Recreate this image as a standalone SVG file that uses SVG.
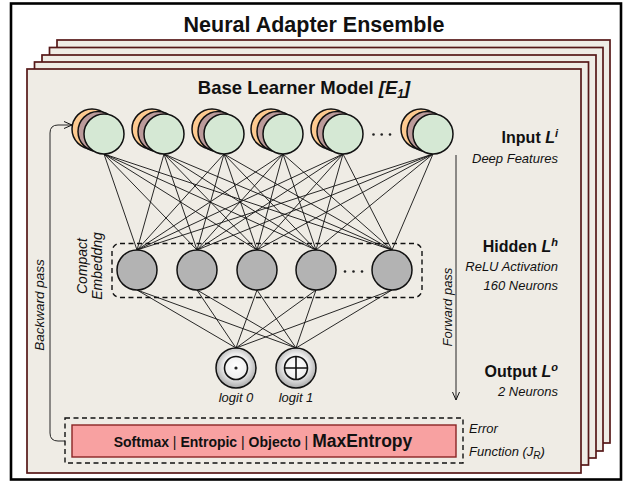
<svg xmlns="http://www.w3.org/2000/svg" width="628" height="483" viewBox="0 0 628 483">
<defs>
<style>
.page{fill:#efece5;stroke:#561818;stroke-width:1.7}
.ln{stroke:#111;stroke-width:0.9;fill:none}
.inA{fill:#fdca90;stroke:#111;stroke-width:1.5}
.inB{fill:#bc9b9b;stroke:#111;stroke-width:1.5}
.inC{fill:#d5e8d4;stroke:#111;stroke-width:1.5}
.hid{fill:#b3b3b3;stroke:#111;stroke-width:1.5}
.out{fill:url(#og);stroke:#111;stroke-width:1.5}
.sym{fill:none;stroke:#111;stroke-width:1.6}
.dash{fill:none;stroke:#111;stroke-width:1.4;stroke-dasharray:5,3.5}
.t{font-family:"Liberation Sans",Arial,sans-serif;fill:#111}
.b{font-weight:bold}
.i{font-style:italic}
.dot{fill:#222}
</style>
<radialGradient id="og" cx="50%" cy="45%" r="55%">
<stop offset="0" stop-color="#ffffff"/>
<stop offset="0.55" stop-color="#eeeeee"/>
<stop offset="1" stop-color="#a9a9a9"/>
</radialGradient>
<marker id="ar" markerWidth="10" markerHeight="10" refX="9" refY="5" orient="auto" markerUnits="userSpaceOnUse">
<path d="M1,1.5 L9,5 L1,8.5" fill="none" stroke="#111" stroke-width="1"/>
</marker>
</defs>
<rect x="0" y="0" width="628" height="483" fill="#fff"/>
<rect x="11" y="3.5" width="610" height="476" fill="#fff" stroke="#000" stroke-width="2.6"/>
<text class="t b" x="314" y="32" font-size="21.5" text-anchor="middle">Neural Adapter Ensemble</text>
<g id="pages">
<rect class="page" x="57" y="40" width="553" height="403"/>
<rect class="page" x="49.5" y="47.5" width="553.5" height="403.5"/>
<rect class="page" x="42" y="55" width="554" height="403"/>
<rect class="page" x="34.5" y="62" width="554" height="403"/>
<rect class="page" x="27" y="69" width="554" height="404"/>
</g>
<text class="t b" x="304" y="94" font-size="18.5" text-anchor="middle">Base Learner Model <tspan font-style="italic">[E<tspan font-size="12" baseline-shift="-4">1</tspan>]</tspan></text>
<g id="connectors">
<g class="ln">
<path d="M104,154 L137,250 M104,154 L197,250 M104,154 L257,250 M104,154 L316,250 M104,154 L392,250"/>
<path d="M164,154 L137,250 M164,154 L197,250 M164,154 L257,250 M164,154 L316,250 M164,154 L392,250"/>
<path d="M224,154 L137,250 M224,154 L197,250 M224,154 L257,250 M224,154 L316,250 M224,154 L392,250"/>
<path d="M283,154 L137,250 M283,154 L197,250 M283,154 L257,250 M283,154 L316,250 M283,154 L392,250"/>
<path d="M343,154 L137,250 M343,154 L197,250 M343,154 L257,250 M343,154 L316,250 M343,154 L392,250"/>
<path d="M433,154 L137,250 M433,154 L197,250 M433,154 L257,250 M433,154 L316,250 M433,154 L392,250"/>
<path d="M137,290 L236,348 M137,290 L296,348 M197,290 L236,348 M197,290 L296,348 M257,290 L236,348 M257,290 L296,348 M316,290 L236,348 M316,290 L296,348 M392,290 L236,348 M392,290 L296,348"/>
</g>
<path id="forward" class="ln" d="M456,155 L456,400" marker-end="url(#ar)"/>
<path id="backward" class="ln" d="M65,441 L58,441 Q50,441 50,433 L50,133 Q50,125 58,125 L72,125" marker-end="url(#ar)"/>
</g>
<g id="input-layer">
<g id="in1"><circle class="inA" cx="92" cy="129" r="20"/><circle class="inB" cx="98" cy="131.5" r="20"/><circle class="inC" cx="104" cy="134" r="20"/></g>
<g id="in2"><circle class="inA" cx="152" cy="129" r="20"/><circle class="inB" cx="158" cy="131.5" r="20"/><circle class="inC" cx="164" cy="134" r="20"/></g>
<g id="in3"><circle class="inA" cx="212" cy="129" r="20"/><circle class="inB" cx="218" cy="131.5" r="20"/><circle class="inC" cx="224" cy="134" r="20"/></g>
<g id="in4"><circle class="inA" cx="271" cy="129" r="20"/><circle class="inB" cx="277" cy="131.5" r="20"/><circle class="inC" cx="283" cy="134" r="20"/></g>
<g id="in5"><circle class="inA" cx="331" cy="129" r="20"/><circle class="inB" cx="337" cy="131.5" r="20"/><circle class="inC" cx="343" cy="134" r="20"/></g>
<g id="in6"><circle class="inA" cx="421" cy="129" r="20"/><circle class="inB" cx="427" cy="131.5" r="20"/><circle class="inC" cx="433" cy="134" r="20"/></g>
<g id="in-dots"><circle class="dot" cx="373.5" cy="134.5" r="1.3"/><circle class="dot" cx="381.7" cy="134.5" r="1.3"/><circle class="dot" cx="390" cy="134.5" r="1.3"/></g>
</g>
<g id="hidden-layer">
<rect id="embedding" class="dash" x="112" y="243.5" width="310" height="54" rx="8"/>
<circle class="hid" cx="137" cy="270" r="20"/>
<circle class="hid" cx="197" cy="270" r="20"/>
<circle class="hid" cx="257" cy="270" r="20"/>
<circle class="hid" cx="316" cy="270" r="20"/>
<circle class="hid" cx="392" cy="270" r="20"/>
<g id="hid-dots"><circle class="dot" cx="345" cy="271.5" r="1.3"/><circle class="dot" cx="353.5" cy="271.5" r="1.3"/><circle class="dot" cx="362" cy="271.5" r="1.3"/></g>
</g>
<g id="output-layer">
<g id="logit0"><circle class="out" cx="236" cy="368" r="20"/><circle class="sym" cx="236" cy="368" r="11.5"/><circle class="dot" cx="236" cy="368" r="1.6"/>
<text class="t i" x="236" y="402" font-size="13" text-anchor="middle">logit 0</text></g>
<g id="logit1"><circle class="out" cx="296" cy="368" r="20"/><circle class="sym" cx="296" cy="368" r="11.5"/><path class="sym" d="M284.5,368 L307.5,368 M296,356.5 L296,379.5"/>
<text class="t i" x="296" y="402" font-size="13" text-anchor="middle">logit 1</text></g>
</g>
<g id="error-function">
<rect class="dash" x="65" y="418" width="398" height="45"/>
<rect x="72" y="425" width="384" height="32" fill="#f8a1a1" stroke="#8a2424" stroke-width="1.4"/>
<text class="t" x="263" y="447" font-size="14" text-anchor="middle"><tspan class="b">Softmax</tspan> | <tspan class="b">Entropic</tspan> | <tspan class="b">Objecto</tspan> | <tspan class="b" font-size="17.5">MaxEntropy</tspan></text>
<text class="t i" x="469" y="433" font-size="13">Error</text>
<text class="t i" x="469" y="456" font-size="13">Function (J<tspan font-size="10" baseline-shift="-3">R</tspan>)</text>
</g>
<g id="labels">
<text class="t b" x="558" y="143" font-size="16" text-anchor="end">Input <tspan font-style="italic">L<tspan font-size="11" baseline-shift="6">i</tspan></tspan></text>
<text class="t i" x="558" y="163" font-size="13" text-anchor="end">Deep Features</text>
<text class="t b" x="558" y="252" font-size="16" text-anchor="end">Hidden <tspan font-style="italic">L<tspan font-size="11" baseline-shift="6">h</tspan></tspan></text>
<text class="t i" x="558" y="271" font-size="13" text-anchor="end">ReLU Activation</text>
<text class="t i" x="558" y="290" font-size="13" text-anchor="end">160 Neurons</text>
<text class="t b" x="558" y="377" font-size="16" text-anchor="end">Output <tspan font-style="italic">L<tspan font-size="11" baseline-shift="6">o</tspan></tspan></text>
<text class="t i" x="558" y="396" font-size="13" text-anchor="end">2 Neurons</text>
<text class="t i" font-size="14" text-anchor="middle" transform="translate(87,266) rotate(-90)">Compact</text>
<text class="t i" font-size="14" text-anchor="middle" transform="translate(101.5,266) rotate(-90)">Embeddng</text>
<text class="t i" font-size="13.5" text-anchor="middle" transform="translate(43.5,305) rotate(-90)">Backward pass</text>
<text class="t i" font-size="13" text-anchor="middle" transform="translate(451.5,307) rotate(-90)">Forward pass</text>
</g>
</svg>
